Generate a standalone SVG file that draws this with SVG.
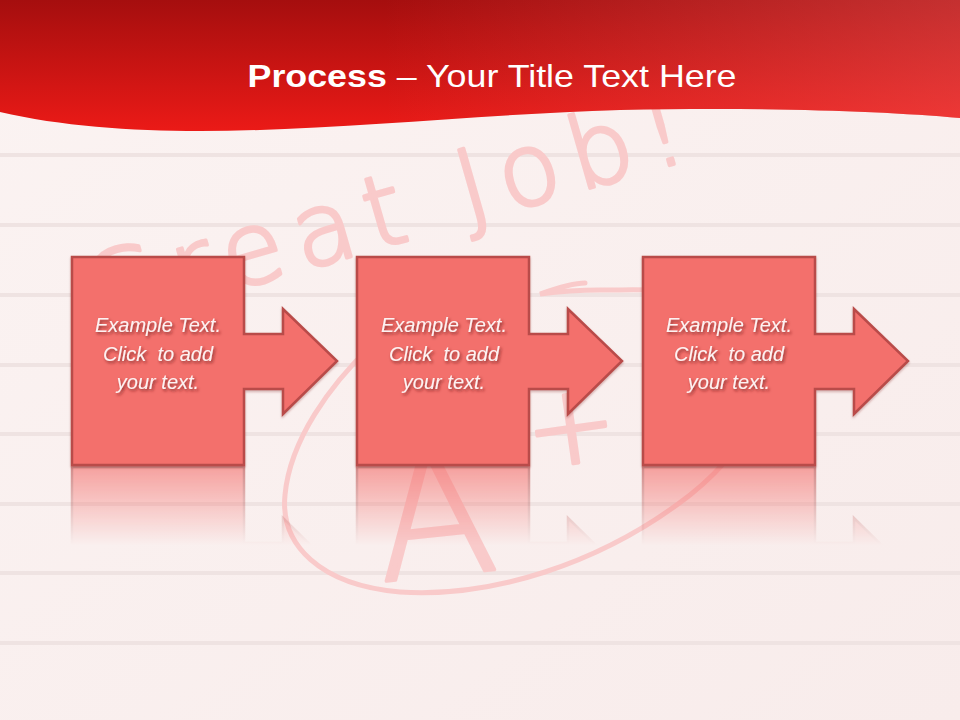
<svg xmlns="http://www.w3.org/2000/svg" xmlns:xlink="http://www.w3.org/1999/xlink" width="960" height="720" viewBox="0 0 960 720">
<defs>
<style>
.line{stroke:#efe3e2;stroke-width:4}
.wm{fill:#f9caca;font-family:"DejaVu Sans","Liberation Sans",sans-serif;font-weight:200;stroke:#f9caca;stroke-width:3.5;stroke-linejoin:round;stroke-linecap:round}
.box{fill:#f36f6c;stroke:#b94b49;stroke-width:2.5;stroke-linejoin:miter}
.lbl{fill:#fdf2f2;font-family:"Liberation Sans",Arial,sans-serif;font-style:italic;font-size:20px;text-anchor:middle;white-space:pre}
.title{fill:#ffffff;font-family:"Liberation Sans",Arial,sans-serif;font-size:32px}
</style>
<linearGradient id="hdr" x1="0" y1="0" x2="0" y2="1">
<stop offset="0" stop-color="#a50e0e"/>
<stop offset="1" stop-color="#eb1a17"/>
</linearGradient>
<linearGradient id="hdrR" x1="0" y1="0" x2="1" y2="0">
<stop offset="0.4" stop-color="#ff7070" stop-opacity="0"/>
<stop offset="1" stop-color="#ff7070" stop-opacity="0.35"/>
</linearGradient>
<linearGradient id="bg" x1="0" y1="0" x2="1" y2="1">
<stop offset="0" stop-color="#fbf3f2"/>
<stop offset="1" stop-color="#f8eceb"/>
</linearGradient>
<linearGradient id="fade" gradientUnits="userSpaceOnUse" x1="0" y1="466" x2="0" y2="545">
<stop offset="0" stop-color="#fff" stop-opacity="0.62"/>
<stop offset="1" stop-color="#fff" stop-opacity="0"/>
</linearGradient>
<mask id="refl" maskUnits="userSpaceOnUse" x="0" y="466" width="960" height="100">
<rect x="0" y="466" width="960" height="100" fill="url(#fade)"/>
</mask>
<filter id="ts" x="-20%" y="-40%" width="140%" height="180%">
<feDropShadow dx="1.5" dy="2" stdDeviation="1.5" flood-color="#6a1a1a" flood-opacity="0.75"/>
</filter>
<filter id="bs" x="-10%" y="-10%" width="120%" height="120%">
<feDropShadow dx="0" dy="1.5" stdDeviation="1.2" flood-color="#7a2020" flood-opacity="0.35"/>
</filter>
<polygon id="shape" points="72,257 244,257 244,334 283,334 283,309 337,361 283,414 283,389 244,389 244,465 72,465"/>
</defs>

<!-- background -->
<rect width="960" height="720" fill="url(#bg)"/>
<g id="ruled-lines">
<line class="line" x1="0" y1="155" x2="960" y2="155"/>
<line class="line" x1="0" y1="225" x2="960" y2="225"/>
<line class="line" x1="0" y1="295" x2="960" y2="295"/>
<line class="line" x1="0" y1="365" x2="960" y2="365"/>
<line class="line" x1="0" y1="434" x2="960" y2="434"/>
<line class="line" x1="0" y1="504" x2="960" y2="504"/>
<line class="line" x1="0" y1="573" x2="960" y2="573"/>
<line class="line" x1="0" y1="643" x2="960" y2="643"/>
</g>

<!-- watermark -->
<g id="watermark">
<text class="wm" x="95" y="330" font-size="100" textLength="620" lengthAdjust="spacing" transform="rotate(-16 95 330)">Great Job!</text>
<path d="M372,345 C330,385 290,440 285,495 C280,545 320,585 400,592 C490,598 600,565 690,495 C760,440 790,360 760,320 C730,285 660,290 600,290 C575,290 555,292 540,294 C560,287 575,283 585,283" fill="none" stroke="#f9caca" stroke-width="5" stroke-linecap="round"/>
<text class="wm" x="375" y="576" font-size="175" transform="rotate(-6 430 520)">A</text>
<text class="wm" x="525" y="465" font-size="110" transform="rotate(-8 560 430)">+</text>
</g>

<!-- header -->
<g id="header">
<path d="M0,0 H960 V118 C880,111 760,107 620,110 C480,114 330,131 200,131 C130,131 60,126 0,112 Z" fill="url(#hdr)"/>
<path d="M0,0 H960 V118 C880,111 760,107 620,110 C480,114 330,131 200,131 C130,131 60,126 0,112 Z" fill="url(#hdrR)"/>
<text class="title" x="492" y="87" text-anchor="middle" textLength="489" lengthAdjust="spacingAndGlyphs"><tspan font-weight="bold">Process</tspan> – Your Title Text Here</text>
</g>

<!-- reflections -->
<g id="reflections" mask="url(#refl)">
<use xlink:href="#shape" class="box" transform="translate(0,932) scale(1,-1)"/>
<use xlink:href="#shape" class="box" transform="translate(285,932) scale(1,-1)"/>
<use xlink:href="#shape" class="box" transform="translate(571,932) scale(1,-1)"/>
</g>

<g id="connectors"></g>

<g id="step1">
<use xlink:href="#shape" class="box" filter="url(#bs)"/>
<g filter="url(#ts)">
<text class="lbl" x="158" y="332">Example Text.</text>
<text class="lbl" x="158" y="361">Click  to add</text>
<text class="lbl" x="158" y="389">your text.</text>
</g>
</g>

<g id="step2">
<use xlink:href="#shape" class="box" filter="url(#bs)" transform="translate(285,0)"/>
<g filter="url(#ts)">
<text class="lbl" x="444" y="332">Example Text.</text>
<text class="lbl" x="444" y="361">Click  to add</text>
<text class="lbl" x="444" y="389">your text.</text>
</g>
</g>

<g id="step3">
<use xlink:href="#shape" class="box" filter="url(#bs)" transform="translate(571,0)"/>
<g filter="url(#ts)">
<text class="lbl" x="729" y="332">Example Text.</text>
<text class="lbl" x="729" y="361">Click  to add</text>
<text class="lbl" x="729" y="389">your text.</text>
</g>
</g>
</svg>
